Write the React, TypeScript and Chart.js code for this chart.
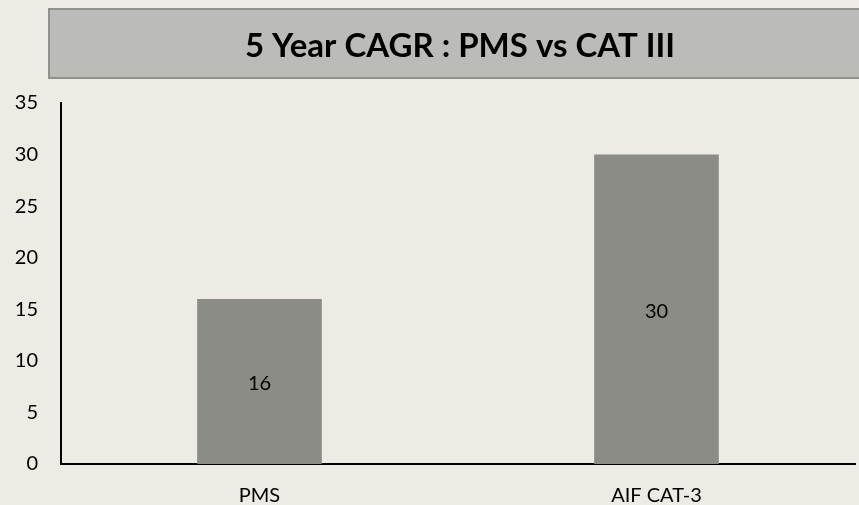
import React, { useEffect, useRef } from "react";
import { Chart, registerables } from "chart.js";

Chart.register(...registerables);

const titleText = "5 Year CAGR : PMS vs CAT III";
const categories = ["PMS", "AIF CAT-3"];
const cagrValues = [16, 30];
const yMin = 0;
const yMax = 35;
const yStep = 5;

const FONT = "Lato, 'Open Sans', sans-serif";

const titleBoxPlugin = {
  id: "titleBox",
  beforeDraw(chart: any) {
    const ctx = chart.ctx;
    ctx.save();
    ctx.fillStyle = "#BBBCB7";
    ctx.strokeStyle = "#8F918C";
    ctx.lineWidth = 2;
    ctx.fillRect(49, 9, 820, 69);
    ctx.strokeRect(49, 9, 820, 69);
    ctx.fillStyle = "#000";
    ctx.font = "bold 33px " + FONT;
    ctx.textAlign = "center";
    ctx.textBaseline = "middle";
    ctx.fillText(titleText, 460, 46);
    ctx.restore();
  },
};

const valueLabelPlugin = {
  id: "valueLabels",
  afterDatasetsDraw(chart: any) {
    const ctx = chart.ctx;
    const meta = chart.getDatasetMeta(0);
    const ds = chart.data.datasets[0];
    ctx.save();
    ctx.fillStyle = "#000";
    ctx.font = "20px " + FONT;
    ctx.textAlign = "center";
    ctx.textBaseline = "middle";
    meta.data.forEach((bar: any, i: number) => {
      const { x, y, base } = bar.getProps(["x", "y", "base"], true);
      ctx.fillText(String(ds.data[i]), x, (y + base) / 2 + 2);
    });
    ctx.restore();
  },
};

export default function App() {
  const canvasRef = useRef<HTMLCanvasElement | null>(null);

  useEffect(() => {
    document.body.style.margin = "0";
    const canvas = canvasRef.current;
    if (!canvas) return;
    const chart = new Chart(canvas, {
      type: "bar",
      data: {
        labels: categories,
        datasets: [
          {
            data: cagrValues,
            backgroundColor: "#8B8C85",
            borderWidth: 0,
            barPercentage: 0.314,
            categoryPercentage: 1,
          },
        ],
      },
      options: {
        animation: false,
        responsive: false,
        maintainAspectRatio: false,
        layout: { padding: { top: 103, right: 4, left: 0, bottom: 0 } },
        plugins: {
          legend: { display: false },
          tooltip: { enabled: false },
          title: { display: false },
        },
        scales: {
          x: {
            grid: { display: false, drawTicks: false },
            border: { display: true, color: "#000", width: 2 },
            ticks: {
              color: "#000",
              font: { family: FONT, size: 20 },
              padding: 20,
            },
            afterFit(scale: any) {
              scale.height = 41;
            },
          },
          y: {
            min: yMin,
            max: yMax,
            grid: { display: false, drawTicks: false },
            border: { display: true, color: "#000", width: 2 },
            ticks: {
              stepSize: yStep,
              color: "#000",
              font: { family: FONT, size: 20 },
              padding: 23,
            },
            afterFit(scale: any) {
              scale.width = 61;
            },
          },
        },
      },
      plugins: [titleBoxPlugin, valueLabelPlugin],
    });
    return () => chart.destroy();
  }, []);

  return (
    <div style={{ width: 859, height: 505, background: "#EEEBE4" }}>
      <canvas ref={canvasRef} width={859} height={505} style={{ display: "block" }} />
    </div>
  );
}
